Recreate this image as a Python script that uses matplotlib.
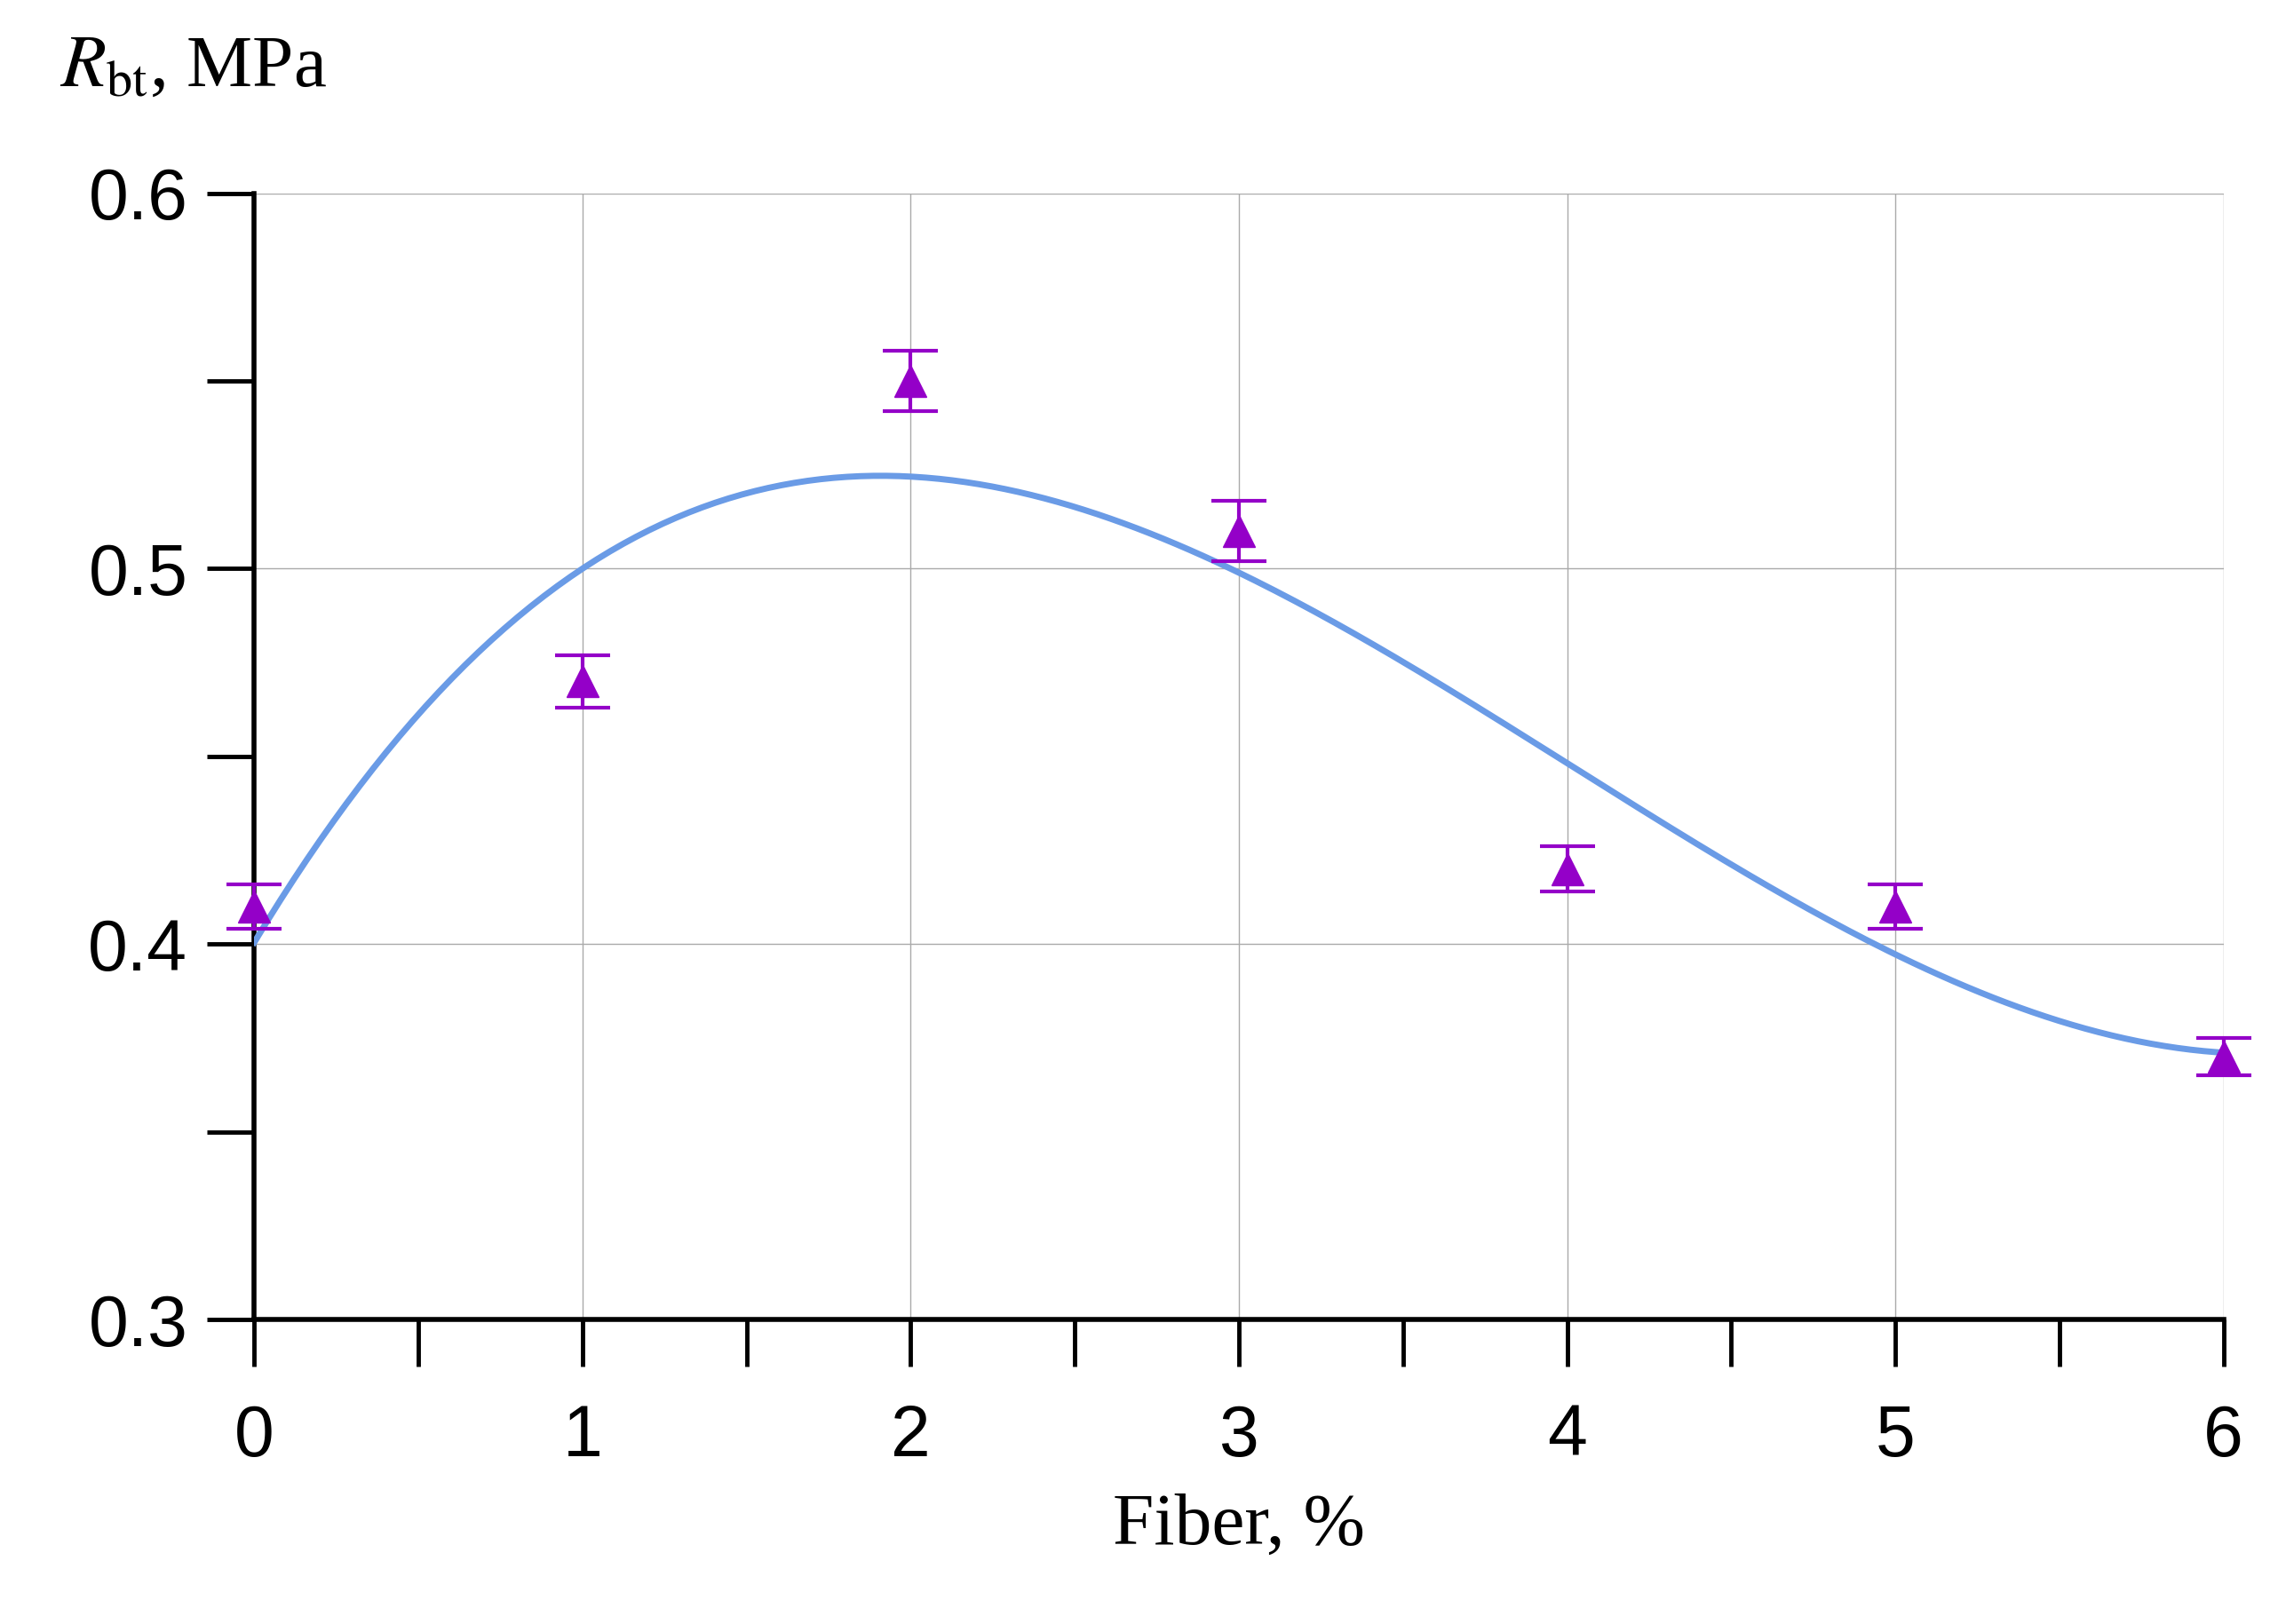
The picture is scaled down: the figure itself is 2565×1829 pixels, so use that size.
import numpy as np
import matplotlib
matplotlib.use("Agg")
import matplotlib.pyplot as plt
from matplotlib.ticker import MultipleLocator

plt.rcParams['mathtext.fontset'] = 'stix'

fiber = [0, 1, 2, 3, 4, 5, 6]
rbt = [0.41, 0.47, 0.55, 0.51, 0.42, 0.41, 0.37]
err = [0.006, 0.007, 0.008, 0.008, 0.006, 0.006, 0.005]
# trend curve values
curve_x = [0, 0.5, 1, 1.5, 2, 2.5, 3, 3.5, 4, 4.5, 5, 5.5, 6]
curve_y = [0.40, 0.462, 0.50, 0.519, 0.525, 0.517, 0.50, 0.474, 0.447, 0.421, 0.398, 0.381, 0.370]

fig = plt.figure(figsize=(25.65, 18.29), dpi=100)
ax = fig.add_axes([0.1116, 0.1875, 0.8645, 0.6935])

coef = np.polyfit(curve_x, curve_y, 3)
xs = np.linspace(0, 6, 300)
ax.plot(xs, np.polyval(coef, xs), color='#6A9BE6', lw=5, zorder=3)
ax.errorbar(fiber, rbt, yerr=err, fmt='^', color='#9400C8', ms=26, capsize=22,
            elinewidth=3, capthick=3, zorder=4, clip_on=False)

ax.set_xlim(0, 6)
ax.set_ylim(0.3, 0.6)
ax.xaxis.set_major_locator(MultipleLocator(1))
ax.xaxis.set_minor_locator(MultipleLocator(0.5))
ax.yaxis.set_minor_locator(MultipleLocator(0.05))
ax.set_yticks([0.3, 0.4, 0.5, 0.6])
ax.set_yticklabels(['0.3', '0.4', '0.5', '0.6'])
ax.grid(True, which='major', color='#AAAAAA', lw=1.0)
for s in ['top', 'right']:
    ax.spines[s].set_visible(False)
for s in ['left', 'bottom']:
    ax.spines[s].set_linewidth(4)
ax.tick_params(which='major', length=38, width=3.5, labelsize=58)
ax.tick_params(axis='x', which='major', pad=30)
ax.tick_params(axis='y', which='major', pad=16)
ax.tick_params(which='minor', length=38, width=3.5)
for lab in ax.get_xticklabels() + ax.get_yticklabels():
    lab.set_family('Liberation Sans')
ax.set_xlabel('Fiber, %', family='Liberation Serif', fontsize=60, labelpad=18)
fig.text(0.026, 0.958, r'$\mathit{R}_{\mathrm{bt}}$, MPa', family='Liberation Serif',
         fontsize=60, va='center', ha='left')
fig.savefig('out.png', dpi=100)
